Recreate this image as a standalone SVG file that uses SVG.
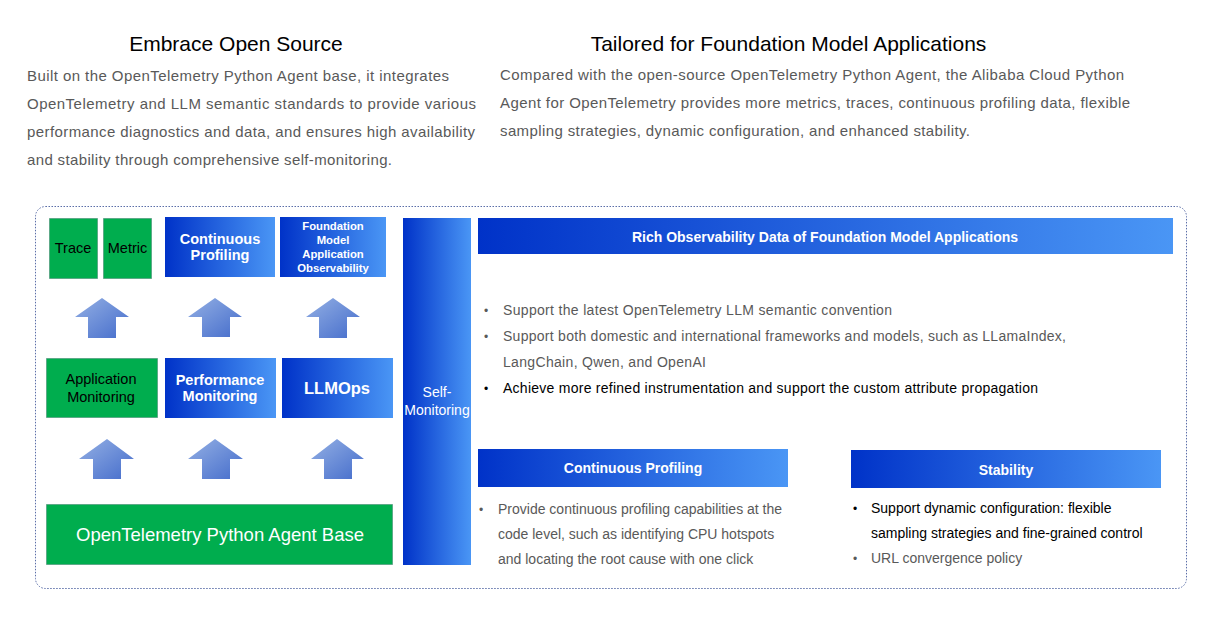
<svg xmlns="http://www.w3.org/2000/svg" width="1217" height="623" viewBox="0 0 1217 623">
<defs>
<linearGradient id="blue" x1="0" y1="0" x2="1" y2="0">
<stop offset="0" stop-color="#0032C8"/>
<stop offset="1" stop-color="#4A96F5"/>
</linearGradient>
<linearGradient id="arrowg" x1="0" y1="0" x2="1" y2="1">
<stop offset="0" stop-color="#94B0E4"/>
<stop offset="1" stop-color="#446CCB"/>
</linearGradient>
<style>
text{font-family:"Liberation Sans",Arial,sans-serif}
.green{fill:#00AD4E;stroke:#3d7f6a;stroke-width:1;stroke-dasharray:1 1}
.blue{fill:url(#blue)}
.arrow{fill:url(#arrowg)}
.h1{font-size:21px;fill:#000;text-anchor:middle}
.para{font-size:15px;fill:#595959}
.wb{font-weight:bold;fill:#fff;text-anchor:middle}
.blk{fill:#000;text-anchor:middle;font-size:14.5px}
.li{font-size:14px;fill:#595959}
.lik{font-size:14px;fill:#000}
.dot{font-size:12px;fill:#595959}
.dotk{font-size:12px;fill:#000}
</style>
</defs>
<rect width="1217" height="623" fill="#fff"/>
<g id="intro-left">
<text class="h1" x="236" y="51">Embrace Open Source</text>
<text class="para" x="27" y="81" textLength="422" lengthAdjust="spacing">Built on the OpenTelemetry  Python Agent base, it integrates</text>
<text class="para" x="27" y="109" textLength="449" lengthAdjust="spacing">OpenTelemetry  and LLM semantic standards to provide various</text>
<text class="para" x="27" y="137" textLength="448" lengthAdjust="spacing">performance diagnostics and data, and ensures high availability</text>
<text class="para" x="27" y="165" textLength="365" lengthAdjust="spacing">and stability through  comprehensive  self-monitoring.</text>
</g>
<g id="intro-right">
<text class="h1" x="788.5" y="51">Tailored for Foundation Model Applications</text>
<text class="para" x="500" y="80" textLength="624" lengthAdjust="spacing">Compared with the open-source OpenTelemetry  Python Agent, the Alibaba Cloud Python</text>
<text class="para" x="500" y="108" textLength="630" lengthAdjust="spacing">Agent for OpenTelemetry  provides more metrics, traces, continuous profiling data, flexible</text>
<text class="para" x="500" y="136" textLength="470" lengthAdjust="spacing">sampling strategies, dynamic configuration, and enhanced stability.</text>
</g>
<rect id="frame" x="35.5" y="206.5" width="1151" height="382" rx="10" fill="none" stroke="#5b6ea8" stroke-width="1" stroke-dasharray="1.5 1.5"/>
<g id="trace"><rect class="green" x="49.5" y="218.5" width="48" height="60"/><text class="blk" x="73" y="253">Trace</text></g>
<g id="metric"><rect class="green" x="103.5" y="218.5" width="48" height="60"/><text class="blk" x="127.5" y="253">Metric</text></g>
<g id="cont-prof"><rect class="blue" x="165" y="217" width="110" height="60"/><text class="wb" x="220" y="244" font-size="14.5">Continuous</text><text class="wb" x="220" y="260" font-size="14.5">Profiling</text></g>
<g id="fmao"><rect class="blue" x="280" y="217" width="106" height="60"/>
<text class="wb" x="333" y="230" font-size="11.3">Foundation</text>
<text class="wb" x="333" y="244" font-size="11.3">Model</text>
<text class="wb" x="333" y="258" font-size="11.3">Application</text>
<text class="wb" x="333" y="272" font-size="11.3">Observability</text></g>
<g id="app-mon"><rect class="green" x="46.5" y="358.5" width="111" height="59"/><text class="blk" x="101" y="384">Application</text><text class="blk" x="101" y="402">Monitoring</text></g>
<g id="perf-mon"><rect class="blue" x="165" y="358" width="111" height="60"/><text class="wb" x="220" y="385" font-size="14.5">Performance</text><text class="wb" x="220" y="401" font-size="14.5">Monitoring</text></g>
<g id="llmops"><rect class="blue" x="282" y="358" width="111" height="60"/><text class="wb" x="337" y="394" font-size="16.5">LLMOps</text></g>
<g id="base"><rect class="green" x="46.5" y="504.5" width="346" height="60"/><text x="220" y="541" font-size="18.5" fill="#fff" text-anchor="middle">OpenTelemetry Python Agent Base</text></g>
<g id="self-mon"><rect class="blue" x="403" y="218" width="68" height="347"/><text x="437" y="397" font-size="14" fill="#fff" text-anchor="middle">Self-</text><text x="437" y="415" font-size="14" fill="#fff" text-anchor="middle">Monitoring</text></g>
<g id="connectors">
<polygon class="arrow" points="102,298 129,317 116,317 116,338 88,338 88,317 75,317"/>
<polygon class="arrow" points="215,298 242,317 230,317 230,337 202,337 202,317 188,317"/>
<polygon class="arrow" points="333,298 360,317 347,317 347,338 319,338 319,317 306,317"/>
<polygon class="arrow" points="107,439 134,459 121,459 121,479 93,479 93,459 79,459"/>
<polygon class="arrow" points="215,439 243,459 230,459 230,479 202,479 202,459 188,459"/>
<polygon class="arrow" points="337,439 364,459 352,459 352,479 324,479 324,459 311,459"/>
</g>
<g id="rich">
<rect class="blue" x="478" y="218" width="695" height="36"/>
<text class="wb" x="825" y="242" font-size="14">Rich Observability Data of Foundation Model Applications</text>
<text class="dot" x="484" y="315">•</text><text class="li" x="503" y="315" textLength="389" lengthAdjust="spacing">Support the latest OpenTelemetry LLM semantic convention</text>
<text class="dot" x="484" y="341">•</text><text class="li" x="503" y="341" textLength="563" lengthAdjust="spacing">Support both domestic and international frameworks and models, such as LLamaIndex,</text>
<text class="li" x="503" y="367" textLength="203" lengthAdjust="spacing">LangChain, Qwen, and OpenAI</text>
<text class="dotk" x="484" y="393">•</text><text class="lik" x="503" y="393" textLength="535" lengthAdjust="spacing">Achieve more refined instrumentation and support the custom attribute propagation</text>
</g>
<g id="profiling">
<rect class="blue" x="478" y="449" width="310" height="38"/>
<text class="wb" x="633" y="473" font-size="14">Continuous Profiling</text>
<text class="dot" x="479" y="514">•</text><text class="li" x="498" y="514">Provide continuous profiling capabilities at the</text>
<text class="li" x="498" y="539">code level, such as identifying CPU  hotspots</text>
<text class="li" x="498" y="564">and locating the root cause with  one click</text>
</g>
<g id="stability">
<rect class="blue" x="851" y="450" width="310" height="38"/>
<text class="wb" x="1006" y="475" font-size="14">Stability</text>
<text class="dotk" x="853" y="513">•</text><text class="lik" x="871" y="513">Support dynamic configuration: flexible</text>
<text class="lik" x="871" y="538">sampling strategies and fine-grained control</text>
<text class="dot" x="853" y="563">•</text><text class="li" x="871" y="563">URL convergence policy</text>
</g>
</svg>
